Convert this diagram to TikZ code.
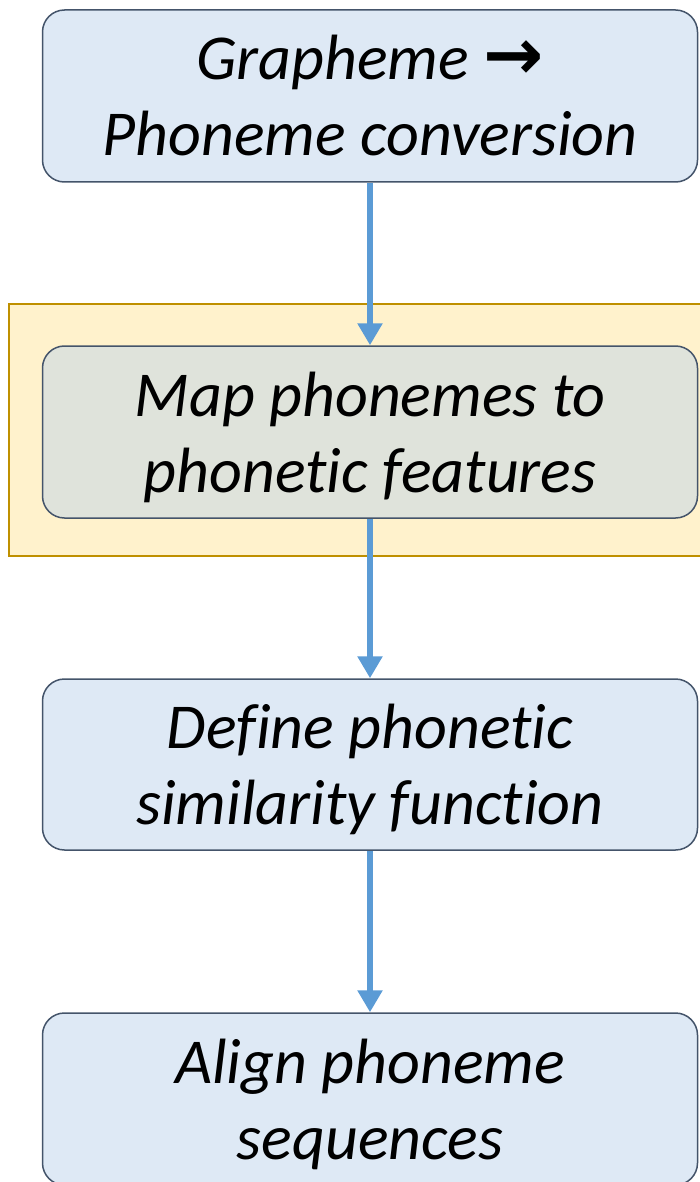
\documentclass[tikz,border=0pt]{standalone}
\usepackage{fontspec}
\setmainfont{Carlito}[Ligatures=NoCommon]
\newfontfamily\arrowfont{DejaVu Sans}
\usetikzlibrary{arrows.meta}
\definecolor{boxblue}{HTML}{DEE9F5}
\definecolor{boxgrey}{HTML}{DFE3DB}
\definecolor{boxline}{HTML}{44546A}
\definecolor{bandfill}{HTML}{FFF2CC}
\definecolor{bandline}{HTML}{BF9000}
\definecolor{flowblue}{HTML}{5B9BD5}
\newcommand{\rowstrut}{\rule[-16pt]{0pt}{76pt}}
\begin{document}
\begin{tikzpicture}[x=1pt, y=-1pt,
	stage/.style={draw=boxline, line width=1.5pt, fill=boxblue, rounded corners=22pt,
		minimum width=655pt, minimum height=172pt, inner sep=0pt, align=center,
		font=\fontsize{64}{76}\selectfont\itshape},
	flow/.style={draw=flowblue, line width=6pt, -{Triangle[width=24pt, length=22pt]}}]
	\useasboundingbox (0, 0) rectangle (699, 1182);
	\draw[fill=bandfill, draw=bandline, line width=2.5pt] (9, 304) rectangle (705, 556);

	\node[stage] (g2p) at (370, 96) {\rowstrut Grapheme {\upshape\bfseries\arrowfont\fontsize{72}{76}\selectfont →}\\Phoneme conversion\rowstrut};
	\node[stage, fill=boxgrey] (feat) at (370, 432) {\rowstrut Map phonemes to\\phonetic features\rowstrut};
	\node[stage, minimum height=171pt] (sim) at (370, 764.5) {\rowstrut Define phonetic\\similarity function\rowstrut};
	\node[stage] (align) at (370, 1099) {\rowstrut Align phoneme\\sequences\rowstrut};

	\draw[flow] (g2p) -- (feat);
	\draw[flow] (feat) -- (sim);
	\draw[flow] (sim) -- (align);
\end{tikzpicture}
\end{document}
